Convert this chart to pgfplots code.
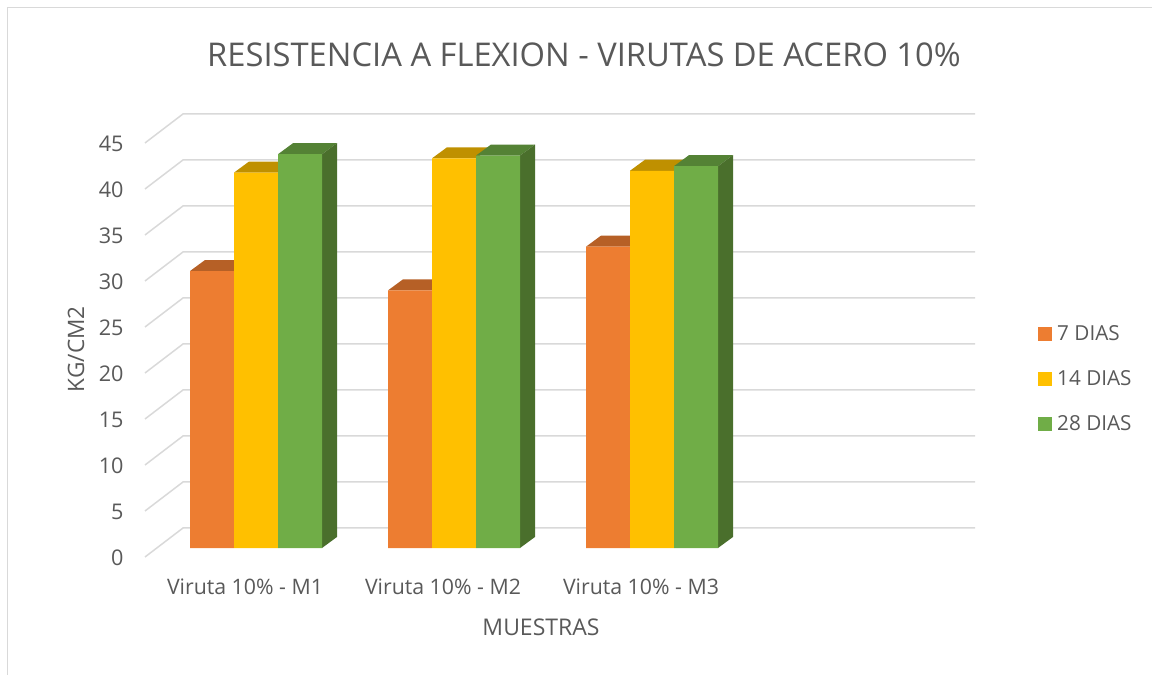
\documentclass[border=0pt]{standalone}
\usepackage{fontspec}
\setmainfont{Open Sans}
\usepackage{pgfplots}
\pgfplotsset{compat=1.18}
\definecolor{orangeF}{HTML}{ED7D31}
\definecolor{orangeT}{HTML}{B66026}
\definecolor{yellowF}{HTML}{FFC000}
\definecolor{yellowT}{HTML}{BF9000}
\definecolor{greenF}{HTML}{70AD47}
\definecolor{greenT}{HTML}{548235}
\definecolor{greenS}{HTML}{4A6F2C}
\definecolor{gridc}{HTML}{D9D9D9}
\definecolor{txt}{HTML}{595959}
\begin{document}
\begin{tikzpicture}[x=1pt,y=1pt]
\useasboundingbox (0,0) rectangle (1152,675);
\draw[gridc,line width=1pt] (7,0) -- (7,667) -- (1152,667);
\begin{axis}[
  at={(145pt,118pt)}, anchor=south west,
  width=830pt, height=443pt, scale only axis,
  xmin=145, xmax=975, ymin=-0.978, ymax=47.17,
  clip=false,
  axis line style={draw=none}, tick style={draw=none},
  major tick length=0pt,
  xtick={245,443,641},
  xticklabels={Viruta 10\% - M1,Viruta 10\% - M2,Viruta 10\% - M3},
  ytick={0,5,10,15,20,25,30,35,40,45},
  yticklabel style={yshift=-10pt,xshift=-18pt,font=\fontsize{21.6}{24}\selectfont,text=txt},
  xticklabel style={yshift=-18pt,font=\fontsize{21.3}{24}\selectfont,text=txt},
  /pgf/number format/assume math mode=true,
  title={RESISTENCIA A FLEXION - VIRUTAS DE ACERO 10\%},
  title style={at={(axis cs:584,53.0)},anchor=center,font=\fontsize{32.7}{36}\selectfont,text=txt},
  xlabel={MUESTRAS},
  xlabel style={at={(axis cs:541,-8.59)},anchor=center,font=\fontsize{23}{26}\selectfont,text=txt},
  ylabel={KG/CM2},
  ylabel style={at={(axis cs:76,21.6)},anchor=center,rotate=0,font=\fontsize{22.6}{26}\selectfont,text=txt},
  legend cell align=left,
  legend style={at={(axis cs:1038,24.4)},anchor=north west,draw=none,fill=none,
    font=\fontsize{20.7}{23}\selectfont,text=txt,row sep=24.5pt,column sep=3pt,inner sep=0pt},
  area legend,
  legend image code/.code={\fill[#1] (0pt,-7pt) rectangle (14pt,7pt);},
]
% gridlines
\addplot[gridc,line width=1.5pt,forget plot] coordinates {(145,-0.978) (183,2.174) (975,2.174)};
\addplot[gridc,line width=1.5pt,forget plot] coordinates {(145,4.022) (183,7.174) (975,7.174)};
\addplot[gridc,line width=1.5pt,forget plot] coordinates {(145,9.022) (183,12.174) (975,12.174)};
\addplot[gridc,line width=1.5pt,forget plot] coordinates {(145,14.022) (183,17.174) (975,17.174)};
\addplot[gridc,line width=1.5pt,forget plot] coordinates {(145,19.022) (183,22.174) (975,22.174)};
\addplot[gridc,line width=1.5pt,forget plot] coordinates {(145,24.022) (183,27.174) (975,27.174)};
\addplot[gridc,line width=1.5pt,forget plot] coordinates {(145,29.022) (183,32.174) (975,32.174)};
\addplot[gridc,line width=1.5pt,forget plot] coordinates {(145,34.022) (183,37.174) (975,37.174)};
\addplot[gridc,line width=1.5pt,forget plot] coordinates {(145,39.022) (183,42.174) (975,42.174)};
\addplot[gridc,line width=1.5pt,forget plot] coordinates {(145,44.022) (183,47.174) (975,47.174)};
% orange tops
\addplot[draw=none,fill=orangeT,forget plot] coordinates {(190,30.1) (234,30.1) (249,31.3) (205,31.3)} --cycle;
\addplot[draw=none,fill=orangeT,forget plot] coordinates {(388,28.0) (432,28.0) (447,29.2) (403,29.2)} --cycle;
\addplot[draw=none,fill=orangeT,forget plot] coordinates {(586,32.75) (630,32.75) (645,33.95) (601,33.95)} --cycle;
% orange fronts
\addplot[ybar,bar width=44,bar shift=0pt,draw=none,fill=orangeF] coordinates {(212,30.1) (410,28.0) (608,32.75)};
\addlegendentry{7 DIAS}
% yellow tops
\addplot[draw=none,fill=yellowT,forget plot] coordinates {(234,40.8) (278,40.8) (293,42.0) (249,42.0)} --cycle;
\addplot[draw=none,fill=yellowT,forget plot] coordinates {(432,42.35) (476,42.35) (491,43.55) (447,43.55)} --cycle;
\addplot[draw=none,fill=yellowT,forget plot] coordinates {(630,41.0) (674,41.0) (689,42.2) (645,42.2)} --cycle;
% yellow fronts
\addplot[ybar,bar width=44,bar shift=0pt,draw=none,fill=yellowF] coordinates {(256,40.8) (454,42.35) (652,41.0)};
\addlegendentry{14 DIAS}
% green tops and sides
\addplot[draw=none,fill=greenT,forget plot] coordinates {(278,42.8) (322,42.8) (337,44.0) (293,44.0)} --cycle;
\addplot[draw=none,fill=greenT,forget plot] coordinates {(476,42.65) (520,42.65) (535,43.85) (491,43.85)} --cycle;
\addplot[draw=none,fill=greenT,forget plot] coordinates {(674,41.5) (718,41.5) (733,42.7) (689,42.7)} --cycle;
\addplot[draw=none,fill=greenS,forget plot] coordinates {(322,0) (337,1.2) (337,44.0) (322,42.8)} --cycle;
\addplot[draw=none,fill=greenS,forget plot] coordinates {(520,0) (535,1.2) (535,43.85) (520,42.65)} --cycle;
\addplot[draw=none,fill=greenS,forget plot] coordinates {(718,0) (733,1.2) (733,42.7) (718,41.5)} --cycle;
% green fronts
\addplot[ybar,bar width=44,bar shift=0pt,draw=none,fill=greenF] coordinates {(300,42.8) (498,42.65) (696,41.5)};
\addlegendentry{28 DIAS}
\end{axis}
\end{tikzpicture}
\end{document}
